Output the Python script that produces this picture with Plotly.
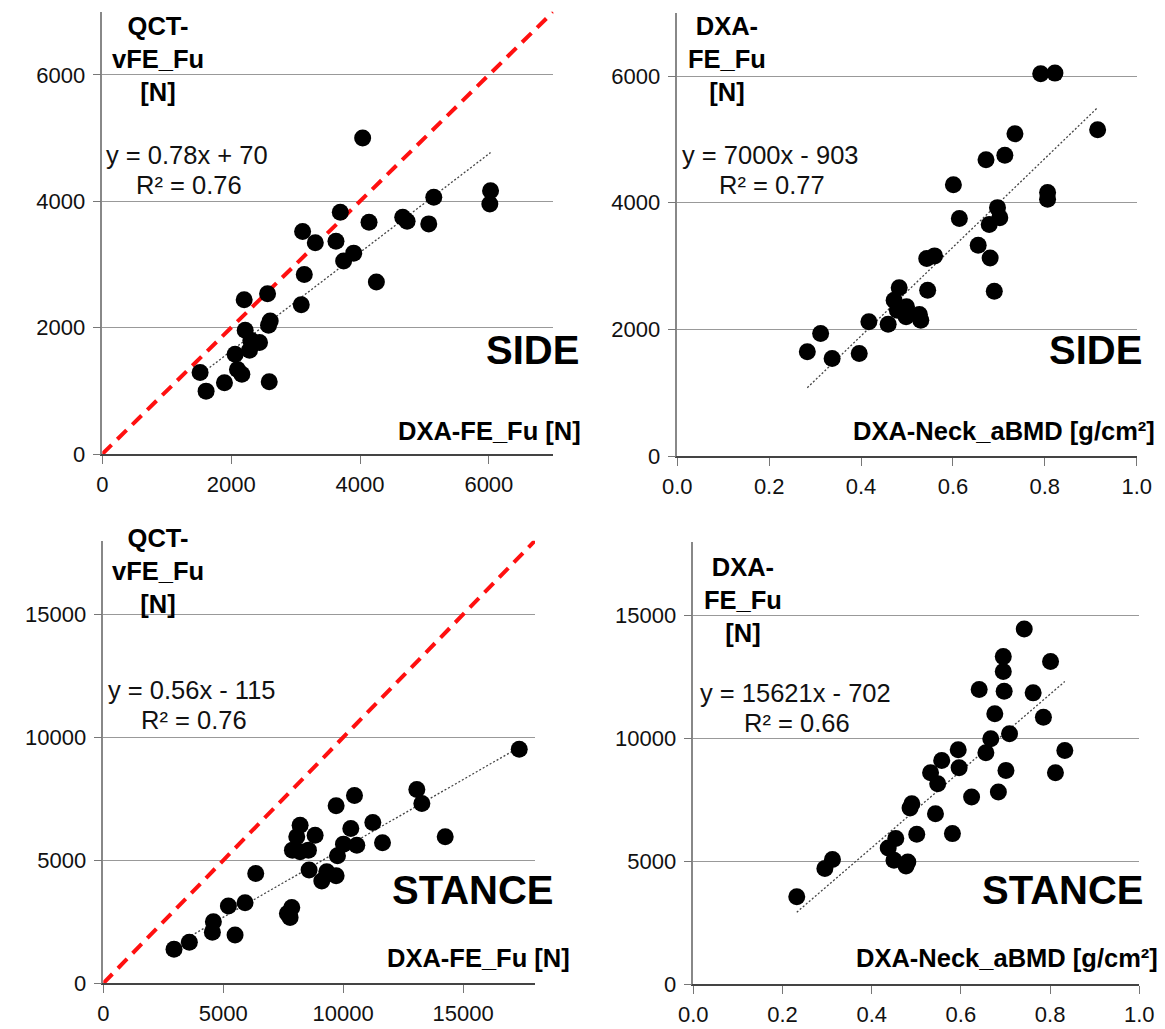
import plotly.graph_objects as go

# ---------- DATA ----------
# Panel A: SIDE, DXA-FE_Fu vs QCT-vFE_Fu
side_fe_x = [4041, 6026, 6015, 5145, 4663, 4731, 5067, 4140, 3694, 3109, 3306, 3627, 3902, 3746,
             3135, 4254, 2565, 2202, 3088, 2606, 2580, 2218, 2306, 2440, 2285, 2062, 2098, 2166,
             1518, 1896, 2591, 1611]
side_fe_y = [5000, 4168, 3958, 4063, 3747, 3684, 3642, 3668, 3826, 3521, 3342, 3368, 3179, 3053,
             2842, 2721, 2537, 2442, 2363, 2105, 2037, 1958, 1800, 1763, 1642, 1579, 1337, 1263,
             1289, 1126, 1142, 995]
# Panel B: SIDE, DXA-Neck_aBMD vs DXA-FE_Fu
side_bmd_x = [0.791, 0.822, 0.735, 0.915, 0.672, 0.713, 0.601, 0.806, 0.806, 0.697, 0.702, 0.614,
              0.679, 0.655, 0.681, 0.560, 0.543, 0.545, 0.690, 0.483, 0.472, 0.499, 0.479, 0.527,
              0.498, 0.530, 0.417, 0.459, 0.312, 0.283, 0.337, 0.396]
side_bmd_y = [6036, 6046, 5089, 5152, 4679, 4748, 4285, 4159, 4054, 3922, 3764, 3749,
              3654, 3328, 3128, 3160, 3118, 2618, 2603, 2655, 2461, 2355, 2303, 2235,
              2198, 2145, 2119, 2082, 1935, 1646, 1540, 1619]
# Panel C: STANCE, DXA-FE_Fu vs QCT-vFE_Fu
stance_fe_x = [17343, 13073, 13282, 10473, 9708, 11238, 10320, 8206, 8067, 8832, 11641, 14256,
               10014, 10570, 7886, 8206, 8553, 9764, 8581, 6356, 9318, 9110, 9708, 5911, 5216,
               7858, 7677, 7788, 4590, 4548, 5494, 3588, 2948]
stance_fe_y = [9519, 7880, 7312, 7637, 7217, 6540, 6296, 6432, 5958, 6025, 5714, 5958,
               5660, 5619, 5416, 5348, 5416, 5186, 4604, 4468, 4536, 4157, 4373, 3277, 3141,
               3087, 2843, 2681, 2505, 2072, 1963, 1665, 1381]
# Panel D: STANCE, DXA-Neck_aBMD vs DXA-FE_Fu
stance_bmd_x = [0.742, 0.695, 0.695, 0.801, 0.641, 0.697, 0.762, 0.676, 0.785, 0.709, 0.667,
                0.656, 0.833, 0.594, 0.557, 0.596, 0.701, 0.812, 0.532, 0.548, 0.624, 0.684,
                0.490, 0.486, 0.543, 0.501, 0.581, 0.454, 0.437, 0.450, 0.481, 0.477, 0.312,
                0.295, 0.232]
stance_bmd_y = [14447, 13323, 12714, 13120, 11983, 11915, 11848, 10995, 10859, 10182, 9979,
                9410, 9505, 9532, 9099, 8801, 8693, 8598, 8598, 8151, 7609, 7813,
                7339, 7163, 6932, 6093, 6120, 5917, 5538, 5037, 4969, 4807, 5064,
                4698, 3547]

# regression (as printed on the chart): slope, intercept
fits = [(0.78, 70), (7000, -903), (0.56, -115), (15621, -702)]
eq_text = [("y = 0.78x + 70", "R² = 0.76"), ("y = 7000x - 903", "R² = 0.77"),
           ("y = 0.56x - 115", "R² = 0.76"), ("y = 15621x - 702", "R² = 0.66")]
ytitles = ["QCT-<br>vFE_Fu<br>[N]", "DXA-<br>FE_Fu<br>[N]", "QCT-<br>vFE_Fu<br>[N]", "DXA-<br>FE_Fu<br>[N]"]
xtitles = ["DXA-FE_Fu [N]", "DXA-Neck_aBMD [g/cm²]", "DXA-FE_Fu [N]", "DXA-Neck_aBMD [g/cm²]"]
labels = ["SIDE", "SIDE", "STANCE", "STANCE"]
xranges = [(0, 7000), (0, 1), (0, 18000), (0, 1)]
yranges = [(0, 7000), (0, 7000), (0, 18000), (0, 18000)]
xdticks = [2000, 0.2, 5000, 0.2]
ydticks = [2000, 2000, 5000, 5000]
identity = [True, False, True, False]

datasets = [(side_fe_x, side_fe_y), (side_bmd_x, side_bmd_y),
            (stance_fe_x, stance_fe_y), (stance_bmd_x, stance_bmd_y)]

W, H = 1165, 1029
# panel boxes in pixels: left, right, top, bottom
boxes = [(102.3, 553.3, 11.7, 454.0), (677.3, 1136.7, 12.7, 456.0),
         (103.3, 535.0, 540.7, 983.3), (693.3, 1139.3, 541.7, 984.0)]

FONT = "Liberation Sans, Arial, sans-serif"

fig = go.Figure()
annotations = []

# text placement (pixels): centre of the 3-line y title block
title_pos = [(158, 59), (727, 59), (158, 571), (743, 600)]
eq_pos = [(187, 155), (770, 155), (192, 690), (795, 693)]
lab_pos = [(532, 350), (1095, 350), (472, 890), (1062, 890)]
xt_pos = [(583, 431), (1157, 431), (572, 958), (1160, 958)]


def px(x):
    return x / W


def py(y):
    return 1 - y / H


for i in range(4):
    n = i + 1
    xa = "x" if n == 1 else f"x{n}"
    ya = "y" if n == 1 else f"y{n}"
    xs, ys = datasets[i]
    l, r, t, b = boxes[i]
    axkw = dict(
        domain=[px(l), px(r)], range=list(xranges[i]), dtick=xdticks[i], tick0=0,
        showgrid=False, zeroline=False, showline=True, linecolor="#444444", linewidth=1.5,
        ticks="outside", ticklen=8, tickcolor="#777777", tickwidth=1.2,
        tickfont=dict(family=FONT, size=22, color="#111111"),
        anchor=ya, ticklabelstandoff=2, automargin=False,
        tickformat=".1f" if xdticks[i] < 1 else "d",
    )
    aykw = dict(
        domain=[py(b), py(t)], range=list(yranges[i]), dtick=ydticks[i], tick0=0,
        showgrid=True, gridcolor="#999999", gridwidth=1.3, zeroline=False,
        showline=True, linecolor="#888888", linewidth=1.5,
        ticks="outside", ticklen=8, tickcolor="#777777", tickwidth=1.2,
        tickfont=dict(family=FONT, size=22, color="#111111"),
        anchor=xa, ticklabelstandoff=3, automargin=False, tickformat="d",
    )
    fig.update_layout(**{("xaxis" if n == 1 else f"xaxis{n}"): axkw,
                         ("yaxis" if n == 1 else f"yaxis{n}"): aykw})

    if identity[i]:
        lim = xranges[i][1]
        fig.add_trace(go.Scatter(x=[0, lim], y=[0, lim], mode="lines", xaxis=xa, yaxis=ya,
                                 line=dict(color="#ff1010", width=4, dash="13px,8px"),
                                 hoverinfo="skip", showlegend=False))
    m, c = fits[i]
    x0, x1 = min(xs), max(xs)
    fig.add_trace(go.Scatter(x=[x0, x1], y=[m * x0 + c, m * x1 + c], mode="lines",
                             xaxis=xa, yaxis=ya,
                             line=dict(color="#444444", width=1.3, dash="2px,2px"),
                             hoverinfo="skip", showlegend=False))
    fig.add_trace(go.Scatter(x=xs, y=ys, mode="markers", xaxis=xa, yaxis=ya,
                             marker=dict(color="black", size=17, line=dict(width=0)),
                             showlegend=False))

    tx, ty = title_pos[i]
    annotations.append(dict(text=f"<b>{ytitles[i]}</b>", x=px(tx), y=py(ty), xref="paper", yref="paper",
                            xanchor="center", yanchor="middle", showarrow=False, align="center",
                            font=dict(family=FONT, size=25.5, color="black")))
    ex, ey = eq_pos[i]
    annotations.append(dict(text=eq_text[i][0], x=px(ex), y=py(ey), xref="paper", yref="paper",
                            xanchor="center", yanchor="middle", showarrow=False,
                            font=dict(family=FONT, size=25.5, color="#111111")))
    annotations.append(dict(text=eq_text[i][1], x=px(ex + 2), y=py(ey + 30), xref="paper", yref="paper",
                            xanchor="center", yanchor="middle", showarrow=False,
                            font=dict(family=FONT, size=25.5, color="#111111")))
    lx, ly = lab_pos[i]
    annotations.append(dict(text=f"<b>{labels[i]}</b>", x=px(lx), y=py(ly), xref="paper", yref="paper",
                            xanchor="center", yanchor="middle", showarrow=False,
                            font=dict(family=FONT, size=40, color="black")))
    xx, xy = xt_pos[i]
    annotations.append(dict(text=f"<b>{xtitles[i]}</b>", x=px(xx), y=py(xy), xref="paper", yref="paper",
                            xanchor="right", yanchor="middle", showarrow=False,
                            font=dict(family=FONT, size=25.5, color="black")))

fig.update_layout(width=W, height=H, margin=dict(l=0, r=0, t=0, b=0, autoexpand=False),
                  template="none",
                  plot_bgcolor="white", paper_bgcolor="white",
                  annotations=annotations, showlegend=False)

fig.write_html("out.html", config={"displayModeBar": False},
               post_script="document.body.style.margin='0';document.body.style.overflow='hidden';")
